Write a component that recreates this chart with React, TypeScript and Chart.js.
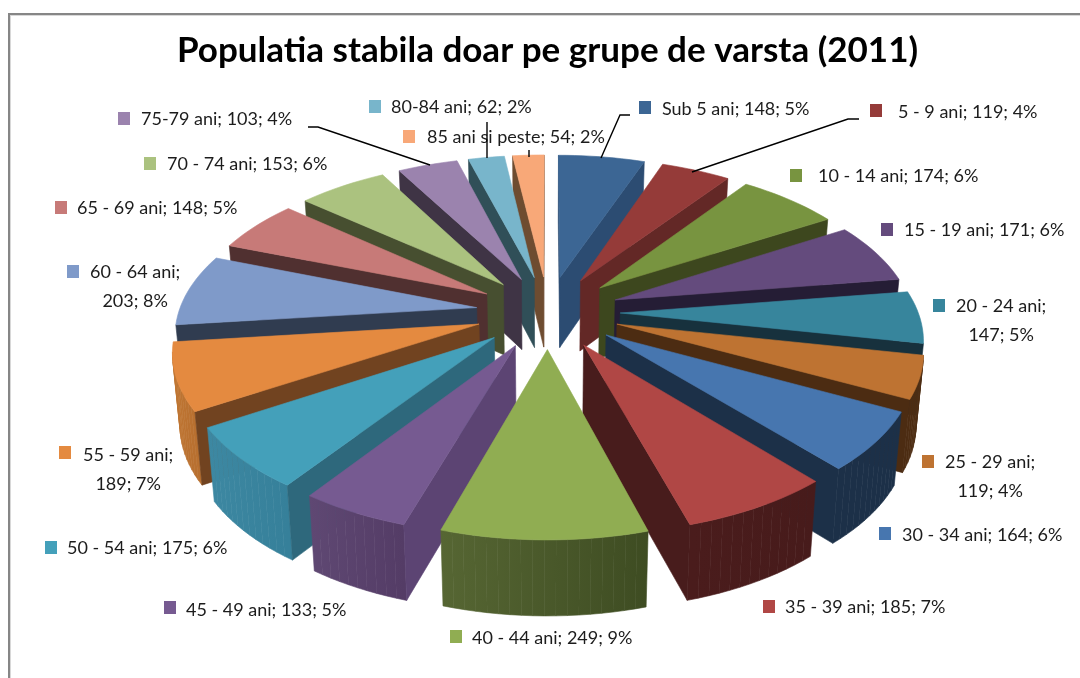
import React, { useEffect, useRef } from "react";
import { Chart, registerables } from "chart.js";

Chart.register(...registerables);

const TITLE = "Populatia stabila doar pe grupe de varsta (2011)";
const categories = [
  "Sub 5 ani", "5 - 9 ani", "10 - 14 ani", "15 - 19 ani", "20 - 24 ani", "25 - 29 ani",
  "30 - 34 ani", "35 - 39 ani", "40 - 44 ani", "45 - 49 ani", "50 - 54 ani", "55 - 59 ani",
  "60 - 64 ani", "65 - 69 ani", "70 - 74 ani", "75-79 ani", "80-84 ani", "85 ani si peste",
];
const values = [148, 119, 174, 171, 147, 119, 164, 185, 249, 133, 175, 189, 203, 148, 153, 103, 62, 54];
const percents = [5, 4, 6, 6, 5, 4, 6, 7, 9, 5, 6, 7, 8, 5, 6, 4, 2, 2];

const faceColors = [
  "#3c6694", "#953b39", "#789440", "#644b7d", "#37859c", "#be7332", "#4776af", "#b04745", "#90ad52",
  "#765a91", "#44a0ba", "#e48a40", "#7f9ac9", "#c77a78", "#abc27f", "#9b83ae", "#78b5cb", "#f8a878",
];
const sideColors = [
  "#2c4c72", "#632826", "#3d471e", "#251d35", "#17313d", "#4c2c12", "#1c3048", "#481c1c", "#3e4c22",
  "#5c4473", "#2e687c", "#714320", "#303c50", "#503030", "#474f30", "#3f3445", "#304f58", "#6e4c30",
];
const rimLeftColors = [
  "#2c4c72", "#632826", "#3d471e", "#251d35", "#17313d", "#4c2c12", "#1c3048", "#4a1c1c", "#566633",
  "#5f4873", "#3d88a2", "#c07632", "#303c50", "#503030", "#474f30", "#3f3445", "#304f58", "#6e4c30",
];
const rimRightColors = [
  "#2c4c72", "#632826", "#3d471e", "#251d35", "#17313d", "#4c2c12", "#1c3048", "#471b1b", "#3e4c22",
  "#543c66", "#36809a", "#b87030", "#303c50", "#503030", "#474f30", "#3f3445", "#304f58", "#6e4c30",
];

// [swatch left, swatch top, text left (line 1), text centre y (line 1), second-line split?]
const labelBoxes: [number, number, number, number, number][] = [
  [639, 101, 662, 109, 0], [870, 104, 898, 112, 0], [790, 169, 818, 176, 0], [881, 223, 904, 230, 0],
  [933, 299, 956, 306, 1], [922, 455, 945, 462, 1], [879, 527, 902, 535, 0], [763, 600, 785, 607, 0],
  [450, 630, 472, 638, 0], [164, 601, 186, 610, 0], [45, 541, 67, 548, 0], [59, 446, 83, 455, 1],
  [67, 265, 90, 272, 1], [55, 201, 77, 208, 0], [144, 157, 167, 164, 0], [118, 112, 141, 119, 0],
  [369, 100, 391, 107, 0], [403, 130, 427, 137, 0],
];
const leaders: number[][] = [
  [308, 127, 318, 127, 430, 165],
  [487, 122, 487, 158],
  [529, 150, 529, 157],
  [630, 115, 620, 115, 601, 158],
  [859, 119, 848, 119, 692, 172],
];

// projection of the pie disc: centre, half axes, perspective, exploded tip radius, height
const CX = 548, CY = 312, AX = 370, BY = 186, PERSP = 0.184, EXPLODE = 0.195;
const FONT = '"Lato"';
const LABEL_SIZE = 18;

type P = [number, number];
function project(u: number, v: number, low: boolean): P {
  const w = 1 / (1 - PERSP * v);
  let sx = CX + AX * u * w;
  let sy = CY + BY * v * w;
  if (low) {
    sx = CX + (sx - CX) * 0.98;
    sy += 71 + 5 * v;
  }
  return [sx, sy];
}
// true when `inside` sits on the opposite side of segment a-b from "straight down"
function facesViewer(a: P, b: P, inside: P) {
  const dx = b[0] - a[0], dy = b[1] - a[1];
  const c1 = dx * (inside[1] - a[1]) - dy * (inside[0] - a[0]);
  return c1 * dx < 0;
}
function poly(ctx: CanvasRenderingContext2D, pts: P[], color: string | CanvasGradient) {
  ctx.beginPath();
  pts.forEach((p, i) => (i ? ctx.lineTo(p[0], p[1]) : ctx.moveTo(p[0], p[1])));
  ctx.closePath();
  ctx.fillStyle = color;
  ctx.strokeStyle = color;
  ctx.lineWidth = 0.6;
  ctx.fill();
  ctx.stroke();
}

const pie3d = {
  id: "pie3d",
  beforeDraw(chart: any) {
    const ctx = chart.ctx as CanvasRenderingContext2D;
    ctx.save();
    ctx.fillStyle = "#ffffff";
    ctx.fillRect(0, 0, chart.width, chart.height);
    ctx.strokeStyle = "#d8d8d8";
    ctx.lineWidth = 1;
    ctx.strokeRect(10.5, 15.5, chart.width + 40, chart.height + 40);
    ctx.strokeStyle = "#868686";
    ctx.lineWidth = 2;
    ctx.strokeRect(9, 14, chart.width + 40, chart.height + 40);
    ctx.restore();
  },
  beforeDatasetsDraw(chart: any) {
    const ctx = chart.ctx as CanvasRenderingContext2D;
    const arcs = chart.getDatasetMeta(0).data as any[];
    const order = arcs
      .map((arc, i) => ({ arc, i, mid: (arc.startAngle + arc.endAngle) / 2 }))
      .sort((a, b) => Math.sin(a.mid) - Math.sin(b.mid));
    ctx.save();
    for (const { arc, i, mid } of order) {
      const tu = EXPLODE * Math.cos(mid), tv = EXPLODE * Math.sin(mid);
      const r = 1 - EXPLODE;
      const steps = Math.max(6, Math.ceil((arc.endAngle - arc.startAngle) * 30));
      const rim: { top: P; low: P }[] = [];
      for (let k = 0; k <= steps; k++) {
        const a = arc.startAngle + ((arc.endAngle - arc.startAngle) * k) / steps;
        const u = tu + r * Math.cos(a), v = tv + r * Math.sin(a);
        rim.push({ top: project(u, v, false), low: project(u, v, true) });
      }
      const tipTop = project(tu, tv, false);
      const tipLow = project(tu, tv, true);
      const xs = rim.map((q) => q.top[0]);
      const grad = ctx.createLinearGradient(Math.min(...xs), 0, Math.max(...xs), 0);
      grad.addColorStop(0, rimLeftColors[i]);
      grad.addColorStop(1, rimRightColors[i]);
      for (let k = 0; k < steps; k++) {
        const a = rim[k], b = rim[k + 1];
        if (facesViewer(a.top, b.top, tipTop)) poly(ctx, [a.top, b.top, b.low, a.low], grad);
      }
      const first = rim[0], last = rim[steps];
      if (facesViewer(tipTop, first.top, last.top)) poly(ctx, [tipTop, first.top, first.low, tipLow], sideColors[i]);
      if (facesViewer(tipTop, last.top, first.top)) poly(ctx, [tipTop, last.top, last.low, tipLow], sideColors[i]);
      poly(ctx, [tipTop, ...rim.map((q) => q.top)], arc.options.backgroundColor);
    }
    ctx.restore();
    return false;
  },
  afterDraw(chart: any) {
    const ctx = chart.ctx as CanvasRenderingContext2D;
    ctx.save();
    ctx.font = `${LABEL_SIZE}px ${FONT}`;
    ctx.textBaseline = "middle";
    ctx.textAlign = "left";
    categories.forEach((cat, i) => {
      const [sx, sy, tx, ty, split] = labelBoxes[i];
      ctx.fillStyle = faceColors[i];
      ctx.fillRect(sx, sy, 12, 13);
      ctx.fillStyle = "#1c1c1c";
      if (split) {
        const first = `${cat};`;
        const second = `${values[i]}; ${percents[i]}%`;
        ctx.fillText(first, tx, ty);
        const centre = tx + ctx.measureText(first).width / 2;
        ctx.fillText(second, centre - ctx.measureText(second).width / 2, ty + 29);
      } else {
        ctx.fillText(`${cat}; ${values[i]}; ${percents[i]}%`, tx, ty);
      }
    });
    ctx.strokeStyle = "#000000";
    ctx.lineWidth = 1.4;
    leaders.forEach((l) => {
      ctx.beginPath();
      for (let k = 0; k < l.length; k += 2) {
        if (k) ctx.lineTo(l[k], l[k + 1]);
        else ctx.moveTo(l[k], l[k + 1]);
      }
      ctx.stroke();
    });
    ctx.restore();
  },
};

export default function App() {
  const ref = useRef<HTMLCanvasElement>(null);
  useEffect(() => {
    document.body.style.margin = "0";
    const chart = new Chart(ref.current as HTMLCanvasElement, {
      type: "pie",
      data: {
        labels: categories,
        datasets: [{ data: values, backgroundColor: faceColors, borderWidth: 0 }],
      },
      options: {
        responsive: false,
        animation: false,
        layout: { padding: { left: 15, top: 30 } },
        plugins: {
          legend: { display: false },
          tooltip: { enabled: false },
          title: {
            display: true,
            text: TITLE,
            color: "#000000",
            font: { family: "Lato", size: 35, weight: "bold" },
            padding: 0,
          },
        },
      },
      plugins: [pie3d],
    } as any);
    return () => chart.destroy();
  }, []);
  return <canvas ref={ref} width={1080} height={678} style={{ display: "block" }} />;
}
